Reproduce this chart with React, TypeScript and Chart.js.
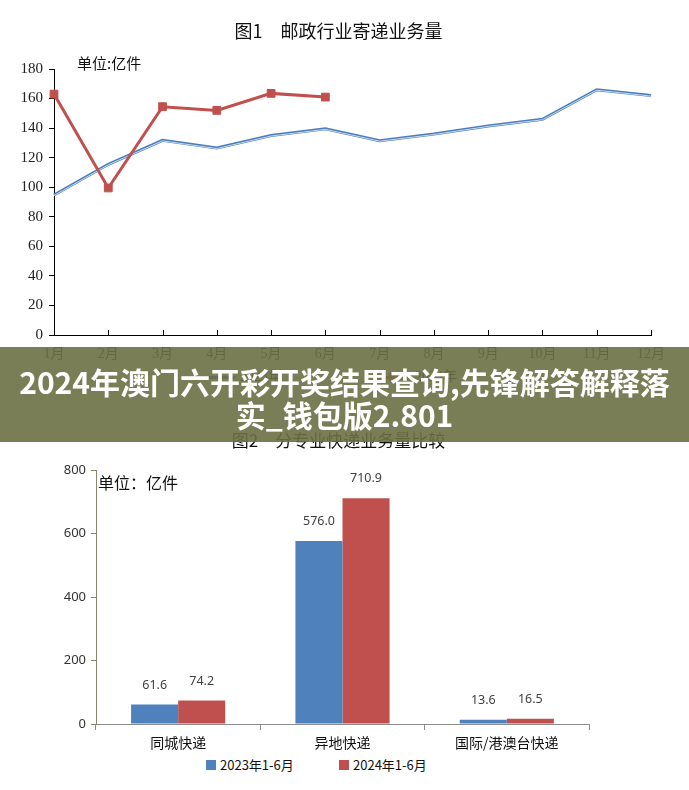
import React, { useEffect, useRef } from "react";
import { Chart, registerables } from "chart.js";
Chart.register(...registerables);

// ---------- data ----------
const months = ["1月", "2月", "3月", "4月", "5月", "6月", "7月", "8月", "9月", "10月", "11月", "12月"];
const volume2023 = [94.7, 115.5, 131.7, 126.5, 135, 139.5, 131.5, 136, 141.5, 146, 166, 162];
const volume2024 = [163, 99.5, 154.5, 152, 163.5, 161];
const lineSeriesNames = ["2023年", "2024年"];
const lineTitle = "图1　邮政行业寄递业务量";
const lineUnit = "单位:亿件";

const categories = ["同城快递", "异地快递", "国际/港澳台快递"];
const half2023 = [61.6, 576.0, 13.6];
const half2024 = [74.2, 710.9, 16.5];
const barSeriesNames = ["2023年1-6月", "2024年1-6月"];
const barTitle = "图2　分专业快递业务量比较";
const barUnit = "单位：亿件";

const bannerLines = ["2024年澳门六开彩开奖结果查询,先锋解答解释落", "实_钱包版2.801"];

const BLUE = "#4f81bd";
const RED = "#c0504d";
const SANS = "'Noto Sans CJK SC', 'Noto Sans', sans-serif";
const SERIF = "'Liberation Serif', 'Noto Sans CJK SC', serif";
const NUM = "'Noto Sans', 'Noto Sans CJK SC', sans-serif";

function LineChart() {
  const ref = useRef<HTMLCanvasElement | null>(null);
  useEffect(() => {
    if (!ref.current) return;
    const plugin = {
      id: "lineExtras",
      afterDatasetDraw(chart: any, args: any) {
        if (args.index !== 0) return;
        const pts = args.meta.data;
        const ctx = chart.ctx;
        ctx.save();
        ctx.beginPath();
        pts.forEach((p: any, i: number) => (i ? ctx.lineTo(p.x, p.y + 0.5) : ctx.moveTo(p.x, p.y + 0.5)));
        ctx.strokeStyle = "rgba(200,218,242,1)";
        ctx.lineWidth = 1;
        ctx.stroke();
        ctx.restore();
      },
      afterDraw(chart: any) {
        const ctx = chart.ctx;
        const xs = chart.scales.x;
        const area = chart.chartArea;
        ctx.save();
        ctx.strokeStyle = "#000";
        ctx.lineWidth = 1;
        ctx.beginPath();
        for (let i = 0; i < xs.ticks.length; i++) {
          const x = Math.round(xs.getPixelForTick(i)) + 0.5;
          ctx.moveTo(x, area.bottom);
          ctx.lineTo(x, area.bottom - 5);
        }
        ctx.stroke();
        ctx.fillStyle = "#111";
        ctx.textBaseline = "middle";
        ctx.textAlign = "center";
        ctx.font = `18px ${SANS}`;
        ctx.fillText(lineTitle, 338.5, 31);
        ctx.textAlign = "left";
        ctx.font = `15px ${SANS}`;
        ctx.fillText(lineUnit, area.left + 23, 63);
        ctx.restore();
      },
    };
    const chart = new Chart(ref.current, {
      type: "line",
      data: {
        labels: months,
        datasets: [
          {
            label: lineSeriesNames[0],
            data: volume2023,
            borderColor: "#4a7ebb",
            borderWidth: 3,
            pointRadius: 0,
            tension: 0,
            order: 1,
          },
          {
            label: lineSeriesNames[1],
            data: volume2024,
            borderColor: RED,
            backgroundColor: RED,
            borderWidth: 3,
            pointStyle: "rect",
            pointRadius: 5.5,
            pointBorderWidth: 1,
            tension: 0,
            order: 0,
          },
        ],
      },
      options: {
        responsive: false,
        animation: false,
        layout: { padding: { top: 69, right: 38, left: 0, bottom: 0 } },
        plugins: { legend: { display: false }, title: { display: false }, tooltip: { enabled: false } },
        scales: {
          x: {
            offset: false,
            grid: { drawOnChartArea: false, drawTicks: false },
            border: { color: "#000", width: 1 },
            ticks: { font: { family: SERIF, size: 14 }, color: "#222", padding: 11, maxRotation: 0, autoSkip: false },
            afterFit: (s: any) => {
              s.height = 37;
            },
          },
          y: {
            min: 0,
            max: 180,
            grid: { drawOnChartArea: false, drawTicks: true, tickLength: 5, color: "#000" },
            border: { color: "#000", width: 1 },
            ticks: { stepSize: 20, font: { family: SERIF, size: 15 }, color: "#222", padding: 6 },
            afterFit: (s: any) => {
              s.width = 54;
            },
          },
        },
      },
      plugins: [plugin],
    } as any);
    return () => chart.destroy();
  }, []);
  return <canvas ref={ref} width={689} height={372} style={{ position: "absolute", left: 0, top: 0, display: "block" }} />;
}

function BarChart() {
  const ref = useRef<HTMLCanvasElement | null>(null);
  useEffect(() => {
    if (!ref.current) return;
    const values = [half2023, half2024];
    const plugin = {
      id: "barExtras",
      afterDatasetsDraw(chart: any) {
        const ctx = chart.ctx;
        ctx.save();
        ctx.fillStyle = "#404040";
        ctx.font = `12.5px ${NUM}`;
        ctx.textAlign = "center";
        ctx.textBaseline = "middle";
        values.forEach((vals, i) => {
          chart.getDatasetMeta(i).data.forEach((bar: any, j: number) => {
            ctx.fillText(vals[j].toFixed(1), bar.x, bar.y - 19.5);
          });
        });
        ctx.restore();
      },
      afterDraw(chart: any) {
        const ctx = chart.ctx;
        const area = chart.chartArea;
        ctx.save();
        ctx.fillStyle = "#111";
        ctx.textBaseline = "middle";
        ctx.textAlign = "center";
        ctx.font = `17px ${SANS}`;
        ctx.fillText(barTitle, 338.5, 11);
        ctx.textAlign = "left";
        ctx.font = `16px ${SANS}`;
        ctx.fillText(barUnit, area.left + 2, area.top + 13);
        ctx.restore();
      },
    };
    const chart = new Chart(ref.current, {
      type: "bar",
      data: {
        labels: categories,
        datasets: [
          { label: barSeriesNames[0], data: half2023, backgroundColor: BLUE, categoryPercentage: 0.573, barPercentage: 1 },
          { label: barSeriesNames[1], data: half2024, backgroundColor: RED, categoryPercentage: 0.573, barPercentage: 1 },
        ],
      },
      options: {
        responsive: false,
        animation: false,
        layout: { padding: { top: 40, right: 100, left: 0, bottom: 0 } },
        plugins: { legend: { display: false }, title: { display: false }, tooltip: { enabled: false } },
        scales: {
          x: {
            grid: { offset: true, drawOnChartArea: false, drawTicks: true, tickLength: 6, color: "#8c8c8c" },
            border: { color: "#8c8c8c", width: 1 },
            ticks: { font: { family: SANS, size: 14 }, color: "#111", padding: 4, maxRotation: 0 },
            afterFit: (s: any) => {
              s.height = 31;
            },
          },
          y: {
            min: 0,
            max: 800,
            grid: { drawOnChartArea: false, drawTicks: true, tickLength: 5, color: "#8b8468" },
            border: { color: "#8b8468", width: 1 },
            ticks: { stepSize: 200, font: { family: NUM, size: 13 }, color: "#333", padding: 5 },
            afterFit: (s: any) => {
              s.width = 96;
            },
          },
        },
      },
      plugins: [plugin],
    } as any);
    return () => chart.destroy();
  }, []);
  return <canvas ref={ref} width={689} height={325} style={{ position: "absolute", left: 0, top: 430, display: "block" }} />;
}

export default function App() {
  const legendText: React.CSSProperties = {
    position: "absolute",
    fontFamily: SANS,
    fontSize: 13,
    color: "#111",
    lineHeight: "16px",
    whiteSpace: "nowrap",
  };
  return (
    <div style={{ position: "absolute", left: 0, top: 0, width: 689, height: 790, background: "#fff", overflow: "hidden" }}>
      <LineChart />
      {/* legend of figure 1 (mostly covered by banner) */}
      <div style={{ position: "absolute", left: 200, top: 376, width: 35, height: 3, background: "#4a7ebb" }} />
      <div style={{ ...legendText, left: 240, top: 369, fontFamily: SERIF, fontSize: 14 }}>{lineSeriesNames[0]}</div>
      <div style={{ position: "absolute", left: 375, top: 376, width: 35, height: 3, background: RED }} />
      <div style={{ position: "absolute", left: 389, top: 373, width: 8, height: 8, background: RED }} />
      <div style={{ ...legendText, left: 415, top: 369, fontFamily: SERIF, fontSize: 14 }}>{lineSeriesNames[1]}</div>

      <BarChart />
      {/* legend of figure 2 */}
      <div style={{ position: "absolute", left: 206, top: 760, width: 10, height: 10, background: BLUE }} />
      <div style={{ ...legendText, left: 220, top: 757 }}>{barSeriesNames[0]}</div>
      <div style={{ position: "absolute", left: 339, top: 760, width: 10, height: 10, background: RED }} />
      <div style={{ ...legendText, left: 353, top: 757 }}>{barSeriesNames[1]}</div>

      {/* banner */}
      <div
        style={{
          position: "absolute",
          left: 0,
          top: 347,
          width: 689,
          height: 95,
          background: "rgba(108,112,68,0.9)",
          color: "#fff",
          fontFamily: SANS,
          fontWeight: 700,
          fontSize: 30,
          lineHeight: "33px",
          textAlign: "center",
          paddingTop: 18,
          boxSizing: "border-box",
        }}
      >
        {bannerLines.map((t) => (
          <div key={t} style={{ whiteSpace: "nowrap" }}>
            {t}
          </div>
        ))}
      </div>
    </div>
  );
}
